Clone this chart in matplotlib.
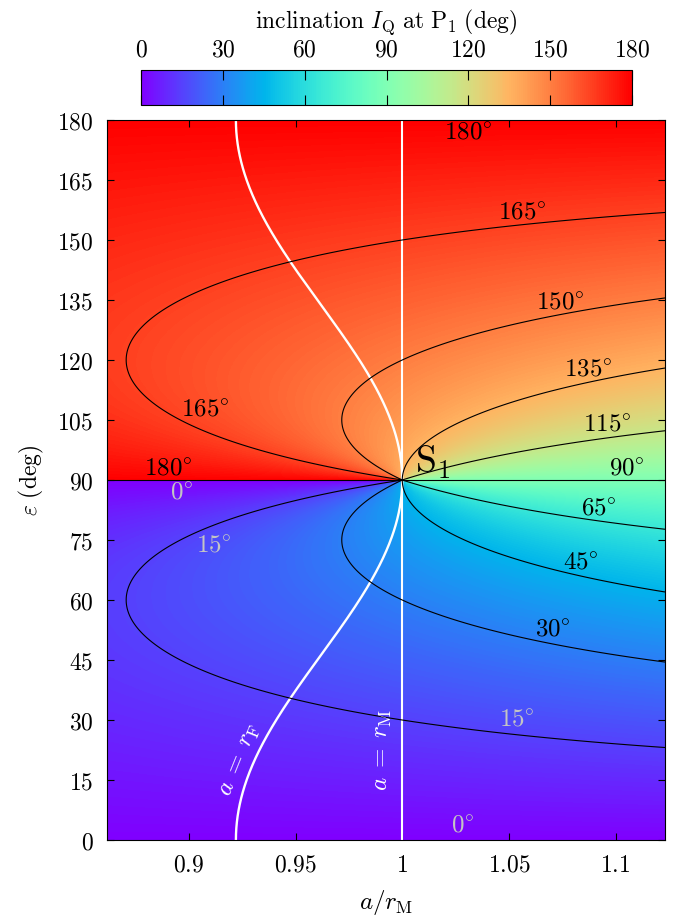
import numpy as np
import matplotlib.pyplot as plt

plt.rcParams['mathtext.fontset'] = 'cm'
plt.rcParams['font.family'] = 'serif'
plt.rcParams['font.size'] = 17

# axis ranges
x_min, x_max = 0.8617, 1.1232
eps_min, eps_max = 0, 180

# Laplace-surface model: tan(2I) = sin(2eps) / (cos(2eps) + (r_M/a)^5)
r_power = 5
# a = r_F curve: starts at a/r_M = 0.922 for eps = 0, reaches 1 at eps = 90
x_rf0 = 0.922

levels_low = [15, 30, 45, 65]
levels_high = [115, 135, 150, 165]

xticks = [0.9, 0.95, 1, 1.05, 1.1]
xticklabels = ['0.9', '0.95', '1', '1.05', '1.1']
yticks = list(range(0, 181, 15))
cbar_ticks = [0, 30, 60, 90, 120, 150, 180]

# contour labels (value text, position, grey or black)
lab_text = ['180', '165', '150', '135', '115', '90', '65', '45', '30',
            '165', '180', '0', '15', '15', '0']
lab_x = [1.0308, 1.0561, 1.0739, 1.0870, 1.0958, 1.1052, 1.0922, 1.0838, 1.0705,
         0.9075, 0.8903, 0.8966, 0.9114, 1.0538, 1.0280]
lab_y = [176.75, 156.75, 134.25, 117.5, 103.75, 92.9, 82.9, 69.2, 52.5,
         107.5, 92.7, 86.7, 73.5, 30.0, 3.5]
lab_grey = [False] * 11 + [True] * 4


def incl_low(x, e):
    t = np.radians(2 * e)
    return 0.5 * np.degrees(np.arctan2(np.sin(t), np.cos(t) + x ** (-r_power)))


fig = plt.figure(figsize=(6.84, 9.23), dpi=100)
ax = fig.add_axes([107.3 / 684, 83 / 923, 557.7 / 684, 720 / 923])

# colour field
nx, ny = 1200, 1440
xc = x_min + (np.arange(nx) + 0.5) * (x_max - x_min) / nx
ec = (np.arange(ny) + 0.5) * 180 / ny
XC, EC = np.meshgrid(xc, ec)
F = np.where(EC < 90, incl_low(XC, EC), 180 - incl_low(XC, 180 - EC))
im = ax.imshow(F, origin='lower', extent=[x_min, x_max, eps_min, eps_max],
               aspect='auto', cmap='rainbow', vmin=0, vmax=180,
               interpolation='nearest')

# white curves a = r_F and a = r_M
e_line = np.linspace(0, 180, 721)
ax.plot(x_rf0 ** (np.cos(np.radians(e_line)) ** 2), e_line, color='white', lw=1.7)
ax.axvline(1, color='white', lw=1.5)

# contours, lower and upper half separately
xg = np.linspace(x_min, x_max, 1400)
eg = np.linspace(0, 90, 900)
XG, EG = np.meshgrid(xg, eg)
L = incl_low(XG, EG)
ax.contour(XG, EG, L, levels=levels_low, colors='black', linewidths=0.8)
ax.contour(XG, 180 - EG, 180 - L, levels=levels_high, colors='black', linewidths=0.8)
ax.axhline(90, color='black', lw=0.8)

for t, x, y, g in zip(lab_text, lab_x, lab_y, lab_grey):
    ax.text(x, y, r'$%s\!^\circ$' % t, ha='center', va='center',
            color='#c4c4c4' if g else 'black', fontsize=18)

ax.text(1.0144, 94.5, r'$\mathrm{S}_1$', ha='center', va='center', fontsize=27)
ax.text(0.9909, 22.5, r'$a\;=\;r_\mathrm{M}$', ha='center', va='center',
        rotation=90, color='white', fontsize=18)
ax.text(0.9239, 20, r'$a\;=\;r_\mathrm{F}$', ha='center', va='center',
        rotation=68, color='white', fontsize=18)

ax.set_xlim(x_min, x_max)
ax.set_ylim(eps_min, eps_max)
ax.set_xticks(xticks, labels=['$%s$' % s for s in xticklabels])
ax.set_yticks(yticks, labels=['$%d$' % v for v in yticks])
ax.tick_params(direction='in', top=True, right=True, length=5, width=0.8, pad=10)
ax.set_xlabel(r'$a/r_\mathrm{M}$', fontsize=18, labelpad=8)
ax.set_ylabel(r'$\varepsilon\ \mathrm{(deg)}$', fontsize=17, labelpad=8)

# colour bar on top
cax = fig.add_axes([141 / 684, (923 - 105) / 923, 491 / 684, 35 / 923])
cb = fig.colorbar(im, cax=cax, orientation='horizontal')
cb.set_ticks(cbar_ticks, labels=['$%d$' % v for v in cbar_ticks])
cax.tick_params(direction='in', top=True, bottom=True, labeltop=True,
                labelbottom=False, length=7, width=0.8, pad=6)
cax.xaxis.set_label_position('top')
cax.set_xlabel(r'$\mathrm{inclination}\ I_\mathrm{Q}\ \mathrm{at}\ \mathrm{P}_1\ \mathrm{(deg)}$',
               fontsize=17, labelpad=8)

fig.savefig('out.png', dpi=100)
